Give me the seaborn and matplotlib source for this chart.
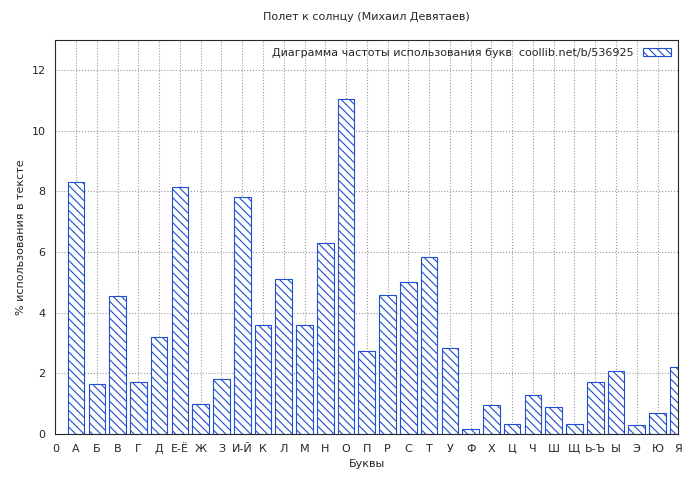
import matplotlib
matplotlib.use("Agg")
import matplotlib.pyplot as plt
import seaborn as sns
import pandas as pd

letters = ['А', 'Б', 'В', 'Г', 'Д', 'Е-Ё', 'Ж', 'З', 'И-Й', 'К', 'Л', 'М', 'Н', 'О', 'П',
           'Р', 'С', 'Т', 'У', 'Ф', 'Х', 'Ц', 'Ч', 'Ш', 'Щ', 'Ь-Ъ', 'Ы', 'Э', 'Ю', 'Я']
percent = [8.3, 1.65, 4.55, 1.72, 3.2, 8.15, 1.0, 1.8, 7.8, 3.58, 5.12, 3.6, 6.3, 11.05, 2.75,
           4.57, 5.02, 5.85, 2.82, 0.15, 0.95, 0.32, 1.3, 0.88, 0.32, 1.7, 2.07, 0.28, 0.68, 2.2]

df = pd.DataFrame({'letter': letters, 'pct': percent})

sns.set_style("white")
plt.rcParams['font.family'] = ['DejaVu Sans']
plt.rcParams['hatch.color'] = '#1f4fd0'
plt.rcParams['hatch.linewidth'] = 0.8

fig, ax = plt.subplots(figsize=(7, 4.8), dpi=100)
fig.subplots_adjust(left=0.079, right=0.969, top=0.917, bottom=0.096)

sns.barplot(data=df, x='letter', y='pct', ax=ax, width=0.8, color='white',
            edgecolor='#1f4fd0', linewidth=0.8, hatch='\\\\\\\\',
            label='Диаграмма частоты использования букв  coollib.net/b/536925')

ax.set_xlim(-1, 29)
ax.set_ylim(0, 13)
ax.set_xticks(range(-1, 30))
ax.set_xticklabels(['0'] + letters, fontsize=8)
ax.set_yticks(range(0, 13, 2))
ax.tick_params(axis='y', labelsize=8)
ax.grid(True, linestyle=':', color='#999999', linewidth=0.8)
ax.set_axisbelow(True)
ax.set_xlabel('Буквы', fontsize=8)
ax.set_ylabel('% использования в тексте', fontsize=8)
ax.set_title('Полет к солнцу (Михаил Девятаев)', fontsize=8, pad=14)
leg = ax.legend(loc='upper right', fontsize=8, frameon=False, markerfirst=False,
                handlelength=2.5, borderaxespad=0.3)

fig.savefig('out.png')
